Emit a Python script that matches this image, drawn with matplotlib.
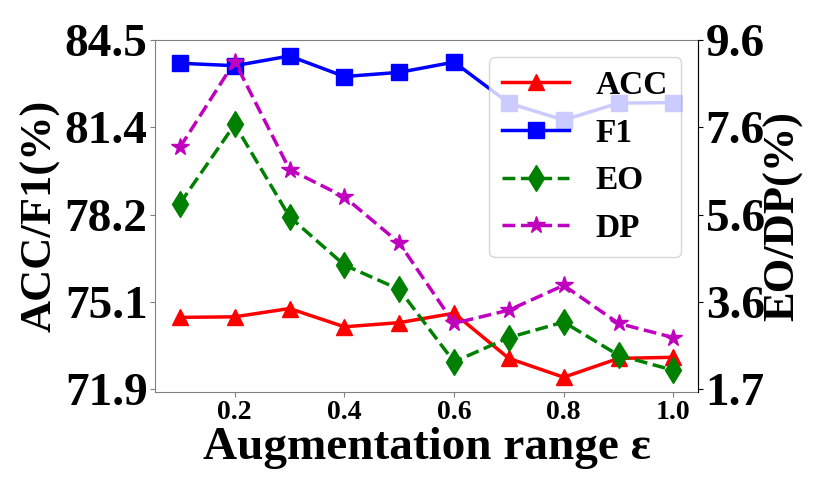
import numpy as np
import matplotlib
matplotlib.use('Agg')
import matplotlib.pyplot as plt

plt.rcParams['font.family'] = ['Liberation Serif', 'DejaVu Serif']
plt.rcParams['font.weight'] = 'bold'

# values
eps = [0.1, 0.2, 0.3, 0.4, 0.5, 0.6, 0.7, 0.8, 0.9, 1.0]
acc = [74.49, 74.51, 74.81, 74.15, 74.30, 74.64, 73.01, 72.33, 73.01, 73.05]
f1 = [83.66, 83.57, 83.92, 83.18, 83.33, 83.70, 82.22, 81.61, 82.22, 82.24]
eo = [5.90, 7.69, 5.60, 4.51, 3.96, 2.32, 2.87, 3.22, 2.47, 2.13]
dp = [7.17, 9.11, 6.67, 6.05, 5.01, 3.19, 3.49, 4.05, 3.19, 2.87]

left_ticks = ['71.9', '75.1', '78.2', '81.4', '84.5']
right_ticks = ['1.7', '3.6', '5.6', '7.6', '9.6']
x_ticks = [0.2, 0.4, 0.6, 0.8, 1.0]

fig = plt.figure(figsize=(8.3, 4.93), dpi=100)
ax1 = fig.add_axes([0.187, 0.205, 0.654, 0.714])
ax2 = ax1.twinx()

l1, = ax1.plot(eps, acc, color='r', marker='^', ms=11, lw=2.5, label='ACC')
l2, = ax1.plot(eps, f1, color='b', marker='s', ms=11, lw=2.5, label='F1')
l3, = ax2.plot(eps, eo, color='g', marker='d', ms=13, lw=2.5, ls='--', label='EO')
l4, = ax2.plot(eps, dp, color='m', marker='*', ms=13, lw=2.5, ls='--', label='DP')

ax1.set_ylim(71.8, 84.5)
ax1.set_yticks(np.linspace(71.9, 84.5, 5))
ax1.set_yticklabels(left_ticks, fontsize=34, fontweight='bold')
ax2.set_ylim(1.64, 9.6)
ax2.set_yticks(np.linspace(1.7, 9.6, 5))
ax2.set_yticklabels(right_ticks, fontsize=34, fontweight='bold')

ax1.set_xticks(x_ticks)
ax1.set_xticklabels(['%.1f' % v for v in x_ticks], fontsize=20, fontweight='bold')

ax1.set_xlabel('Augmentation range ε', fontsize=34, fontweight='bold', labelpad=2)
ax1.set_ylabel('ACC/F1(%)', fontsize=32, fontweight='bold')
ax2.set_ylabel('EO/DP(%)', fontsize=32, fontweight='bold')
ax1.yaxis.set_label_coords(-0.175, 0.5)
ax2.yaxis.set_label_coords(1.12, 0.5)

for s in ax1.spines.values():
    s.set_color('#808080')
ax1.tick_params(axis='both', colors='#808080', labelcolor='black', pad=2)
for name in ['top', 'left', 'bottom']:
    ax2.spines[name].set_visible(False)
ax2.spines['right'].set_color('black')
ax2.tick_params(axis='y', pad=2)

ax2.legend(handles=[l1, l2, l3, l4], loc='upper right',
           prop={'weight': 'bold', 'size': 24}, labelspacing=0.5)

fig.savefig('out.png', dpi=100)
